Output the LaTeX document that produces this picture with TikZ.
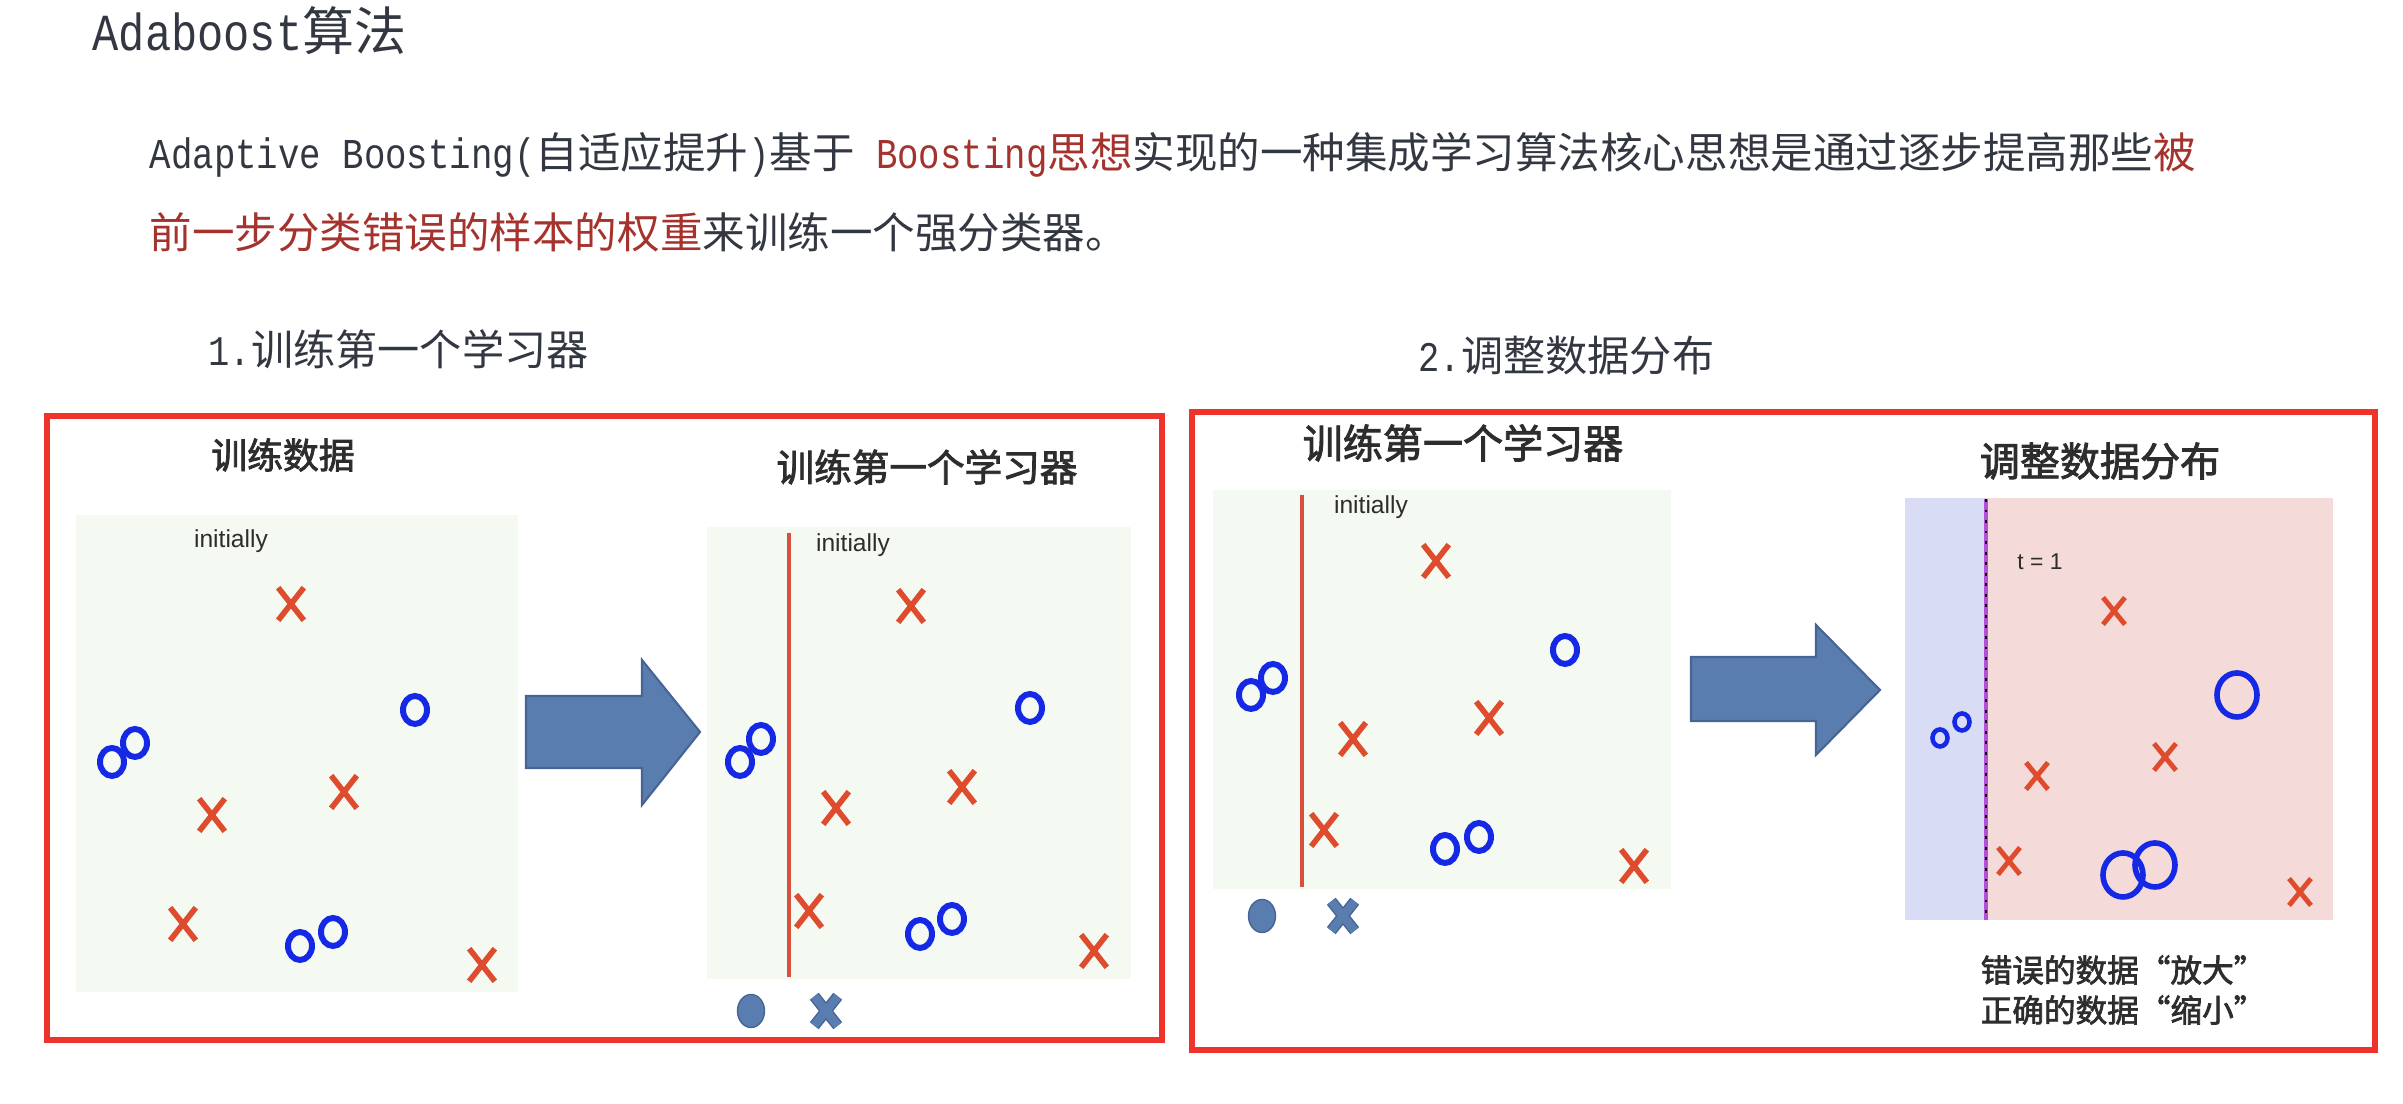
\documentclass[tikz,border=0pt]{standalone}
\usepackage{fontspec}
\setmainfont{Noto Sans CJK SC}
\newfontfamily\latmono[FakeStretch=0.84]{Liberation Mono}
\newfontfamily\helv{Liberation Sans}
\newfontfamily\cjkbf[FakeBold=2.2]{Noto Sans CJK SC}
\usetikzlibrary{shapes.geometric,shapes.misc}
\definecolor{txtgray}{RGB}{50,55,65}
\definecolor{hired}{RGB}{165,50,45}
\definecolor{labgray}{RGB}{45,45,45}
\definecolor{boxred}{RGB}{238,52,42}
\definecolor{bggreen}{RGB}{244,249,242}
\definecolor{xred}{RGB}{222,75,45}
\definecolor{oblue}{RGB}{20,40,230}
\definecolor{cutred}{RGB}{214,80,60}
\definecolor{arblue}{RGB}{90,125,176}
\definecolor{ardark}{RGB}{70,100,150}
\definecolor{pblue}{RGB}{217,220,245}
\definecolor{ppink}{RGB}{244,218,216}
\definecolor{purp}{RGB}{180,80,215}

\begin{document}
\begin{tikzpicture}[
  hd/.style={text=txtgray,inner sep=0pt,anchor=west},
  lab/.style={text=labgray,inner sep=0pt,font=\cjkbf},
  ini/.style={text=labgray,inner sep=0pt,font=\helv\fontsize{7}{8}\selectfont},
  xm/.style={cross out,draw=xred,line width=1.6pt,minimum width=0.2cm,minimum height=0.27cm,inner sep=0pt},
  xs/.style={xm,line width=1.4pt,minimum width=0.17cm,minimum height=0.22cm},
  om/.style={ellipse,draw=oblue,line width=1.7pt,minimum width=0.24cm,minimum height=0.28cm,inner sep=0pt},
  os/.style={om,line width=1.3pt,minimum width=0.15cm,minimum height=0.17cm},
  ob/.style={om,line width=1.6pt,minimum width=0.4cm,minimum height=0.44cm},
  blk/.style={fill=arblue,draw=ardark,line width=0.6pt},
  frm/.style={draw=boxred,line width=1.7pt},
  cut/.style={cutred,line width=1.1pt},
  lgd/.style={ellipse,fill=arblue,draw=ardark,line width=0.4pt,minimum width=0.27cm,minimum height=0.33cm,inner sep=0pt},
  lgx/.style={cross out,draw=ardark,double=arblue,double distance=2.4pt,line width=0.4pt,minimum width=0.22cm,minimum height=0.28cm,inner sep=0pt}]
  \useasboundingbox (0,0) rectangle (24.03,11.04);

  \node[hd,font=\fontsize{14.8}{17}\selectfont] (title) at (0.92,10.73) {{\latmono Adaboost}算法};
  \node[hd,font=\fontsize{12.1}{14}\selectfont] (line1) at (1.49,9.49) {{\latmono Adaptive Boosting(}自适应提升{\latmono )}基于{\latmono\ }\textcolor{hired}{{\latmono Boosting}思想}实现的一种集成学习算法核心思想是通过逐步提高那些\textcolor{hired}{被}};
  \node[hd,font=\fontsize{12.1}{14}\selectfont] (line2) at (1.49,8.72) {\textcolor{hired}{前一步分类错误的样本的权重}来训练一个强分类器。};
  \node[hd,font=\fontsize{12}{14}\selectfont] (sec1) at (2.08,7.55) {{\latmono 1.}训练第一个学习器};
  \node[hd,font=\fontsize{12}{14}\selectfont] (sec2) at (14.18,7.48) {{\latmono 2.}调整数据分布};

  % step 1
  \fill[bggreen] (0.76,1.12) rectangle (5.18,5.89);
  \fill[bggreen] (7.07,1.25) rectangle (11.31,5.77);
  \node[lab,font=\cjkbf\fontsize{10.2}{12}\selectfont] (lab1) at (2.83,6.49) {训练数据};
  \node[lab,font=\cjkbf\fontsize{10.7}{13}\selectfont] (lab2) at (9.27,6.37) {训练第一个学习器};
  \node[ini] (ini1) at (2.31,5.63) {initially};
  \node[ini] (ini2) at (8.53,5.59) {initially};
  \foreach \x/\y [count=\i] in {2.91/5.00,2.12/2.89,3.44/3.12,1.83/1.80,4.82/1.39}
    \node[xm] (xa\i) at (\x,\y) {};
  \foreach \x/\y [count=\i] in {1.12/3.42,1.35/3.61,4.15/3.94,3.00/1.58,3.33/1.72}
    \node[om] (oa\i) at (\x,\y) {};
  \draw[blk] (5.26,4.08) -- (6.42,4.08) -- (6.42,4.44) -- (7.00,3.72) -- (6.42,2.99) -- (6.42,3.36) -- (5.26,3.36) -- cycle;
  \draw[cut] (7.89,5.71) -- (7.89,1.27);
  \foreach \x/\y [count=\i] in {9.11/4.98,8.36/2.96,9.62/3.17,8.09/1.93,10.94/1.53}
    \node[xm] (xb\i) at (\x,\y) {};
  \foreach \x/\y [count=\i] in {7.40/3.42,7.61/3.65,10.30/3.96,9.20/1.70,9.52/1.85}
    \node[om] (ob\i) at (\x,\y) {};
  \node[lgd] (dotb) at (7.51,0.93) {};
  \node[lgx] (crsb) at (8.26,0.93) {};
  \draw[frm] (0.47,0.64) rectangle (11.62,6.88);

  % step 2
  \fill[bggreen] (12.13,2.15) rectangle (16.71,6.14);
  \node[lab,font=\cjkbf\fontsize{11.4}{13}\selectfont] (lab3) at (14.63,6.61) {训练第一个学习器};
  \node[ini] (ini3) at (13.71,5.97) {initially};
  \draw[cut] (13.02,6.09) -- (13.02,2.17);
  \foreach \x/\y [count=\i] in {14.36/5.43,13.53/3.65,14.89/3.86,13.24/2.74,16.34/2.38}
    \node[xm] (xc\i) at (\x,\y) {};
  \foreach \x/\y [count=\i] in {12.51/4.09,12.73/4.26,15.65/4.54,14.45/2.55,14.79/2.67}
    \node[om] (oc\i) at (\x,\y) {};
  \node[lgd] (dotc) at (12.62,1.88) {};
  \node[lgx] (crsc) at (13.43,1.88) {};
  \draw[blk] (16.91,4.47) -- (18.16,4.47) -- (18.16,4.79) -- (18.80,4.14) -- (18.16,3.49) -- (18.16,3.83) -- (16.91,3.83) -- cycle;

  \fill[pblue] (19.05,1.84) rectangle (19.86,6.06);
  \fill[ppink] (19.86,1.84) rectangle (23.33,6.06);
  \draw[purp,line width=1.3pt] (19.86,6.05) -- (19.86,1.84);
  \draw[black,line width=0.8pt,dash pattern=on 0.8pt off 2.2pt] (19.86,6.05) -- (19.86,1.84);
  \node[lab,font=\cjkbf\fontsize{11.4}{13}\selectfont] (lab4) at (21.00,6.43) {调整数据分布};
  \node[ini,font=\helv\fontsize{6.5}{8}\selectfont] (tlab) at (20.40,5.42) {t = 1};
  \foreach \x/\y [count=\i] in {21.14/4.93,21.65/3.47,20.37/3.28,20.09/2.43,23.00/2.12}
    \node[xs] (xd\i) at (\x,\y) {};
  \node[os] (od1) at (19.40,3.66) {};
  \node[os] (od2) at (19.62,3.82) {};
  \node[ob] (od3) at (22.37,4.09) {};
  \node[ob] (od4) at (21.23,2.29) {};
  \node[ob] (od5) at (21.55,2.39) {};
  \node[lab,anchor=west,font=\cjkbf\fontsize{9}{11}\selectfont] (note1) at (19.80,1.34) {错误的数据“放大”};
  \node[lab,anchor=west,font=\cjkbf\fontsize{9}{11}\selectfont] (note2) at (19.80,0.94) {正确的数据“缩小”};
  \draw[frm] (11.92,0.54) rectangle (23.75,6.92);
\end{tikzpicture}
\end{document}
